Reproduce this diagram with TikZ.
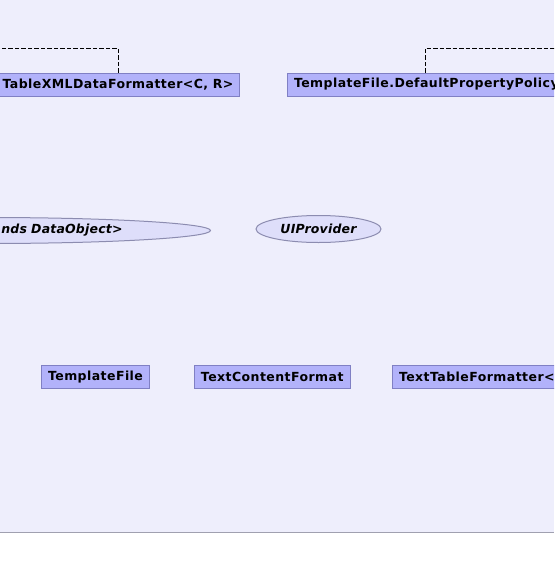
\documentclass[tikz,border=0pt]{standalone}
\usepackage{fontspec}
\setmainfont{DejaVu Sans}
\newfontfamily\umlfont[LetterSpace=3.5]{DejaVu Sans}
\newfontfamily\ovalfont[LetterSpace=1.5]{DejaVu Sans}
\usetikzlibrary{shapes.geometric, positioning}
\definecolor{canvas}{RGB}{238,238,252}
\definecolor{boxfill}{RGB}{178,178,250}
\definecolor{boxline}{RGB}{128,128,196}
\definecolor{ovalfill}{RGB}{222,222,250}
\definecolor{ovalline}{RGB}{140,140,176}
\definecolor{rulegray}{RGB}{160,160,176}
\tikzstyle{classbox} = [rectangle, minimum height=23pt, inner xsep=6.5pt, inner ysep=0pt, text centered, draw=boxline, line width=1pt, fill=boxfill, font=\umlfont\fontsize{12.5}{14}\selectfont\bfseries]
\tikzstyle{iface} = [ellipse, minimum height=26pt, inner sep=0pt, draw=ovalline, line width=1pt, fill=ovalfill, font=\ovalfont\fontsize{12.5}{14}\selectfont\bfseries\itshape]
\tikzstyle{link} = [black, line width=1pt, dash pattern=on 4.5pt off 2pt]

\begin{document}
\begin{tikzpicture}[x=1pt, y=-1pt]

\clip (0,0) rectangle (554,570);
\fill [canvas] (0,0) rectangle (554,532);
\draw [rulegray, line width=1pt] (0,532) -- (554,532);

\node (tableXML) [classbox] at (118,84.5) {TableXMLDataFormatter<C, R>};
\node (policy) [classbox, anchor=west] at (287,84.5) {TemplateFile.DefaultPropertyPolicy};
\node (dataProv) [iface, anchor=east, minimum width=448pt, text width=272pt, align=right] at (211,230.5) {nds DataObject>};
\node (uiProv) [iface, minimum width=125pt, minimum height=27pt] at (318.5,229) {UIProvider};
\node (templateFile) [classbox] at (95.5,377) {TemplateFile};
\node (textContent) [classbox, right=44pt of templateFile] {TextContentFormat};
\node (textTable) [classbox, anchor=west] at (392,377) {TextTableFormatter<};

\coordinate (offL) at (-10,48);
\coordinate (offR) at (570,48);
\draw [link] (tableXML.north) |- (offL);
\draw [link] ([xshift=138pt]policy.north west) |- (offR);

\end{tikzpicture}
\end{document}
